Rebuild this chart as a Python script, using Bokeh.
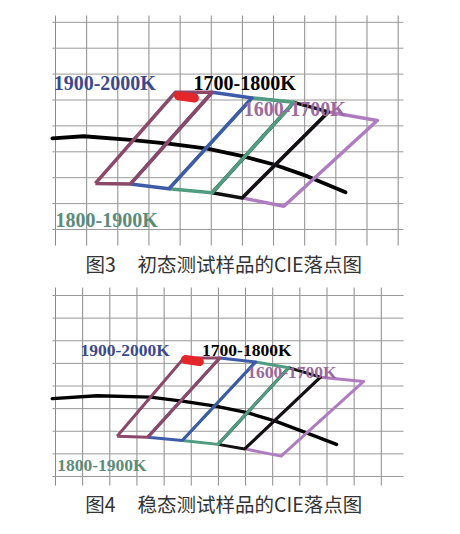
from bokeh.plotting import figure
from bokeh.layouts import column
from bokeh.models import Range1d
from bokeh.core.properties import value
from bokeh.embed import file_html
from bokeh.resources import INLINE

# ---------------- data (grid units) ----------------
cell_names = ["2000-2100K", "1900-2000K", "1800-1900K", "1700-1800K", "1600-1700K"]
cell_colors = ["#8b4868", "#3d5ba8", "#4f9c80", "#111111", "#b07cc0"]

label_texts = ["1900-2000K", "1700-1800K", "1600-1700K", "1800-1900K"]
label_colors = ["#3b4a8c", "#000000", "#9a6aa0", "#5b8c7a"]

# Panel 1 : 图3
p1_grid_x = [0, 1, 2, 3, 4, 5, 6, 7, 8, 9, 10, 11]
p1_grid_y = [0, 1, 2, 3, 4, 5, 6, 7, 8]
p1_bottom_x = [1.28, 2.41, 3.64, 5.03, 5.99, 7.33]
p1_bottom_y = [1.78, 1.76, 1.57, 1.42, 1.22, 0.90]
p1_top_x = [3.85, 5.03, 6.31, 7.65, 8.76, 10.33]
p1_top_y = [5.30, 5.30, 5.08, 4.91, 4.54, 4.21]
p1_curve_x = [-0.10, 0.90, 2.41, 3.69, 4.87, 6.04, 7.01, 8.08, 9.31]
p1_curve_y = [3.52, 3.60, 3.46, 3.31, 3.12, 2.82, 2.51, 2.06, 1.44]
p1_red_x = [3.95, 4.46]
p1_red_y = [5.16, 5.08]
p1_label_x = [-0.06, 4.43, 6.04, 0.00]
p1_label_y = [5.64, 5.64, 4.67, 0.35]
p1_caption = ["图3", "初态测试样品的CIE落点图"]
p1_caption_x = [0.96, 2.63]
p1_caption_y = [-1.31, -1.31]

# Panel 2 : 图4
p2_grid_x = [0, 1, 2, 3, 4, 5, 6, 7, 8, 9, 10, 11, 12]
p2_grid_y = [0, 1, 2, 3, 4, 5, 6, 7, 8]
p2_bottom_x = [2.27, 3.40, 4.67, 5.99, 6.97, 8.31]
p2_bottom_y = [1.78, 1.74, 1.59, 1.42, 1.22, 0.90]
p2_top_x = [4.73, 6.05, 7.37, 8.59, 9.76, 11.35]
p2_top_y = [5.24, 5.24, 5.06, 4.81, 4.39, 4.20]
p2_curve_x = [-0.12, 1.53, 3.50, 4.73, 5.89, 7.06, 8.10, 9.27, 10.35]
p2_curve_y = [3.44, 3.57, 3.51, 3.32, 3.11, 2.82, 2.45, 1.92, 1.42]
p2_red_x = [4.79, 5.30]
p2_red_y = [5.17, 5.08]
p2_label_x = [0.92, 5.40, 7.06, 0.06]
p2_label_y = [5.57, 5.57, 4.61, 0.49]
p2_caption = ["图4", "稳态测试样品的CIE落点图"]
p2_caption_x = [1.10, 3.02]
p2_caption_y = [-1.19, -1.19]


def make_panel(height, page_top, x0_px, sx, y0_px, sy,
               grid_x, grid_y, vline_ext, hline_ext,
               bx, by, tx, ty, cx, cy, rx, ry,
               lx, ly, label_size, cap, capx, capy, lw, clw):
    W = 444
    xs = -x0_px / sx
    ys = -(page_top + height - y0_px) / sy
    p = figure(width=W, height=height, output_backend="svg", toolbar_location=None,
               x_axis_type=None, y_axis_type=None, min_border=0,
               x_range=Range1d(xs, xs + W / sx), y_range=Range1d(ys, ys + height / sy))
    p.outline_line_color = None
    p.background_fill_color = "white"
    p.border_fill_color = "white"

    # grid lines
    p.segment(x0=grid_x, x1=grid_x, y0=[vline_ext[0]] * len(grid_x), y1=[vline_ext[1]] * len(grid_x),
              line_color="#8a8a8a", line_width=1)
    p.segment(x0=[hline_ext[0]] * len(grid_y), x1=[hline_ext[1]] * len(grid_y), y0=grid_y, y1=grid_y,
              line_color="#9a9a9a", line_width=1)

    # black locus curve
    p.line(cx, cy, line_color="#000000", line_width=clw, line_cap="round", line_join="round")

    # parallelogram cells drawn right to left
    for i in reversed(range(len(cell_names))):
        xs_c = [bx[i], bx[i + 1], tx[i + 1], tx[i], bx[i]]
        ys_c = [by[i], by[i + 1], ty[i + 1], ty[i], by[i]]
        p.line(xs_c, ys_c, line_color=cell_colors[i], line_width=lw, line_join="round")

    # red marker
    p.line(rx, ry, line_color="#e4262b", line_width=9, line_cap="round")

    # labels
    for t, c, x, y in zip(label_texts, label_colors, lx, ly):
        p.text(x=[x], y=[y], text=[t], text_color=c, text_font=value("Liberation Serif"),
               text_font_style="bold", text_font_size=label_size, text_baseline="middle",
               text_align="left")

    # caption
    p.text(x=capx, y=capy, text=cap, text_color="#333333", text_font=value("Noto Sans CJK SC"),
           text_font_size="19.5px", text_baseline="middle", text_align="left")
    return p


p1 = make_panel(280, 0, 55, 31.15, 229, 25.9, p1_grid_x, p1_grid_y, (-0.62, 8.26), (-0.10, 11.17),
                p1_bottom_x, p1_bottom_y, p1_top_x, p1_top_y, p1_curve_x, p1_curve_y,
                p1_red_x, p1_red_y, p1_label_x, p1_label_y, "20px",
                p1_caption, p1_caption_x, p1_caption_y, 3.5, 3.8)
p2 = make_panel(238, 280, 55, 27.15, 476, 22.625, p2_grid_x, p2_grid_y, (-0.40, 8.35), (-0.11, 12.82),
                p2_bottom_x, p2_bottom_y, p2_top_x, p2_top_y, p2_curve_x, p2_curve_y,
                p2_red_x, p2_red_y, p2_label_x, p2_label_y, "17.5px",
                p2_caption, p2_caption_x, p2_caption_y, 3.0, 3.4)

layout = column(p1, p2, spacing=0)
open("out.html", "w").write(file_html(layout, INLINE))
